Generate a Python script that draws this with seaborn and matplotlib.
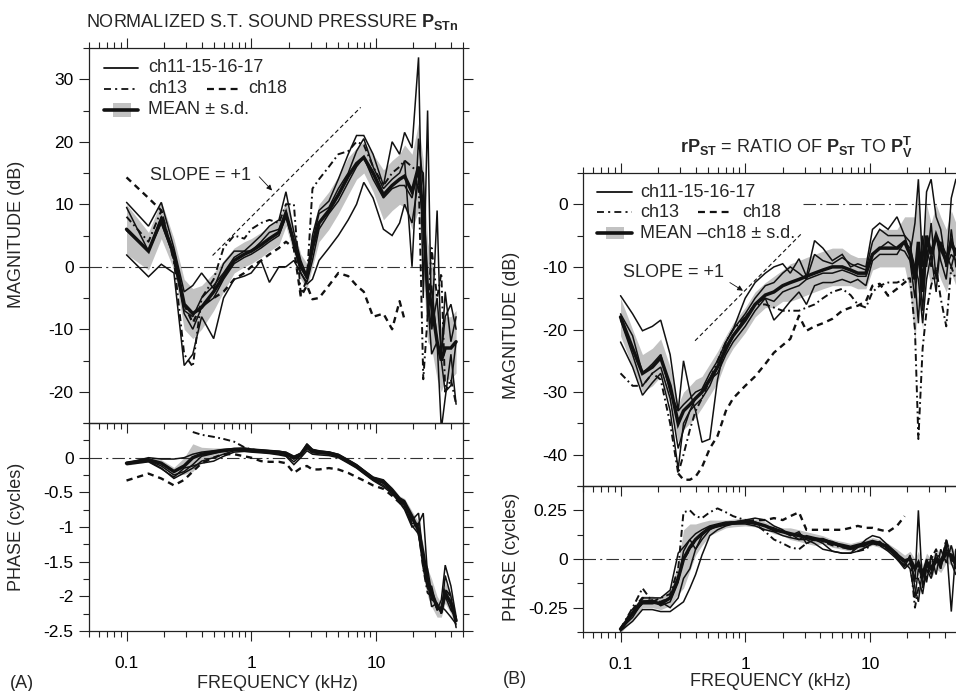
import numpy as np
import pandas as pd
import matplotlib
matplotlib.use("Agg")
import matplotlib.pyplot as plt
import seaborn as sns
from matplotlib.ticker import FixedLocator, FixedFormatter, NullFormatter, FormatStrFormatter, MultipleLocator
from matplotlib.patches import Rectangle
from matplotlib.lines import Line2D

nan = np.nan

# ---------------- Panel A data (frequency in kHz) ----------------
fA = [0.10, 0.15, 0.19, 0.24, 0.29, 0.34, 0.40, 0.50, 0.60, 0.73, 0.88, 1.0, 1.2, 1.4, 1.67, 1.9, 2.2, 2.5, 2.8, 3.1,
      3.5, 4.2, 5.0, 6.0, 7.0, 8.0, 9.5, 11.5, 13.5, 15.5, 17.0, 19.5, 22.0, 24.0, 26.0, 28.0, 31.0, 33.5, 36.0, 40.0, 44.0]

magA_ch11 = [10.3, 6.5, 10.3, 3.0, -4.0, -3.0, -1.0, -3.5, 0.5, 2.5, 2.5, 3.5, 5.0, 6.5, 7.5, 12.0, 5.5, 1.0, -1.5, 5.0,
             9.0, 10.5, 14.0, 18.0, 21.0, 21.0, 18.0, 13.0, 20.0, 18.0, 21.5, 19.0, 33.5, -5.0, 25.0, -10.0, -5.0, -14.0, -8.0, -6.0, -10.0]
magA_ch15 = [9.5, 2.5, 8.0, 2.0, -7.0, -8.0, -5.0, -3.0, -1.0, 1.5, 2.5, 2.5, 4.0, 5.5, 6.0, 9.0, 3.0, 0.0, -2.0, 4.0,
             8.5, 9.5, 12.5, 15.0, 18.5, 20.5, 16.0, 12.5, 14.0, 15.0, 17.0, 0.0, 20.5, 13.0, -8.0, -3.0, -12.0, -14.5, -4.0, -12.0, -8.0]
magA_ch16 = [5.8, 2.5, 7.0, 1.5, -7.5, -10.0, -6.5, -5.0, -2.0, 0.5, 1.5, 2.0, 3.0, 4.0, 5.0, 8.0, 3.5, -1.0, -2.5, 1.0,
             6.0, 8.5, 10.5, 13.5, 16.0, 17.5, 14.0, 11.0, 12.5, 13.0, 13.0, 11.0, 16.0, 15.0, -5.0, -10.0, 9.0, -15.0, -20.0, -19.0, -12.0]
magA_ch17 = [1.9, -1.6, 0.4, -1.0, -15.8, -14.0, -8.0, -11.5, -5.0, -2.0, -1.5, -1.0, 1.0, -2.5, 0.0, 0.0, 1.0, -1.0, -2.8, -2.0,
             1.0, 3.0, 5.0, 7.5, 10.0, 13.5, 11.0, 6.0, 5.0, 7.0, 10.0, 7.0, 14.0, 8.0, -5.0, -14.0, -12.0, -26.0, -21.0, -14.0, -22.0]
magA_ch13 = [8.0, 4.0, 9.0, 1.0, -14.0, -16.0, -5.0, -2.0, 3.0, 5.0, 4.5, 6.0, 7.0, 7.5, 7.0, 10.0, 10.0, -4.5, -2.0, 12.5,
             14.0, 16.0, 18.0, 18.5, 20.0, 19.5, 16.0, 13.0, 15.0, 16.0, 17.0, 16.0, 15.0, -18.0, -8.0, 3.0, -5.0, -1.0, -20.0, -18.0, -22.0]
magA_ch18 = [14.3, 11.0, 9.0, 1.0, -6.0, -9.0, -6.0, -5.0, -4.0, -2.0, -1.0, 0.0, 1.0, 2.0, 3.0, 4.0, 3.0, -4.8, -3.0, -5.2,
             -5.0, -3.0, -1.0, -1.5, -3.0, -4.0, -8.0, -7.5, -10.0, -5.5, -8.5, nan, nan, nan, nan, nan, nan, nan, nan, nan, nan]
magA_mean = [6.0, 2.5, 7.5, 2.0, -6.0, -7.5, -6.5, -4.0, -1.5, 1.0, 2.0, 2.5, 3.5, 4.5, 5.5, 8.5, 4.0, 0.0, -1.5, 3.0,
             7.0, 9.0, 11.5, 14.5, 16.5, 17.5, 15.0, 11.5, 13.0, 14.0, 14.5, 12.0, 16.0, 8.0, -4.0, -6.0, -12.0, -15.0, -13.0, -13.0, -12.0]
magA_sd = [4, 3, 3, 2.5, 4, 4, 3.5, 3, 2.5, 2, 2, 2, 2, 2, 2, 2, 2, 2, 2, 3,
           3, 3, 3, 3, 2.5, 2.5, 3, 4, 4, 4, 5, 6, 7, 9, 8, 7, 6, 5, 5, 5, 5]

phA_ch11 = [-0.08, 0.0, -0.02, -0.02, 0.0, 0.05, 0.08, 0.1, 0.12, 0.13, 0.14, 0.12, 0.11, 0.1, 0.09, 0.08, 0.02, 0.06, 0.2, 0.12,
            0.1, 0.08, 0.05, -0.03, -0.1, -0.18, -0.28, -0.32, -0.45, -0.58, -0.62, -0.9, -0.8, -1.45, -1.6, -1.95, -2.2, -2.05, -1.55, -1.85, -2.3]
phA_ch15 = [-0.07, -0.04, -0.12, -0.25, -0.2, -0.1, 0.02, 0.06, 0.1, 0.12, 0.11, 0.1, 0.09, 0.09, 0.07, 0.05, -0.02, 0.04, 0.15, 0.09,
            0.08, 0.06, 0.02, -0.06, -0.13, -0.2, -0.31, -0.37, -0.48, -0.62, -0.68, -0.95, -0.95, -0.8, -1.7, -2.05, -2.1, -2.25, -2.0, -2.2, -2.3]
phA_ch16 = [-0.09, -0.05, -0.15, -0.3, -0.22, -0.15, -0.05, 0.0, 0.05, 0.1, 0.1, 0.1, 0.08, 0.07, 0.05, 0.03, -0.06, 0.03, 0.13, 0.07,
            0.06, 0.05, 0.01, -0.07, -0.14, -0.22, -0.32, -0.4, -0.5, -0.63, -0.72, -0.98, -1.1, -1.6, -1.9, -1.85, -2.2, -2.15, -2.2, -2.3, -2.4]
phA_ch17 = [-0.1, -0.06, -0.16, -0.28, -0.15, -0.12, -0.08, -0.05, 0.02, 0.08, 0.09, 0.08, 0.07, 0.06, 0.04, 0.02, -0.1, 0.0, 0.1, 0.05,
            0.04, 0.03, 0.0, -0.08, -0.15, -0.23, -0.33, -0.42, -0.52, -0.65, -0.75, -1.0, -0.95, -1.5, -1.8, -2.15, -2.1, -2.25, -1.7, -2.0, -2.45]
phA_ch13 = [nan, nan, nan, nan, nan, 0.37, 0.33, 0.3, 0.27, 0.23, 0.15, 0.12, 0.1, 0.09, 0.08, 0.06, 0.0, 0.05, 0.16, 0.1,
            0.08, 0.06, 0.03, -0.05, -0.12, -0.2, -0.3, -0.36, -0.48, -0.6, -0.68, -0.9, -1.05, -1.6, -1.95, -2.0, -2.15, -2.2, -1.9, -2.0, -2.35]
phA_ch18 = [-0.33, -0.23, -0.3, -0.4, -0.32, -0.2, -0.08, 0.0, 0.05, 0.05, 0.02, 0.0, -0.05, -0.06, -0.06, -0.08, -0.22, -0.15, -0.12, -0.17,
            -0.17, -0.15, -0.17, -0.22, -0.28, -0.33, -0.4, -0.45, -0.55, -0.65, -0.72, nan, nan, nan, nan, nan, nan, nan, nan, nan, nan]
phA_mean = [-0.08, -0.03, -0.08, -0.2, -0.12, 0.0, 0.05, 0.08, 0.1, 0.12, 0.12, 0.11, 0.1, 0.09, 0.08, 0.06, 0.0, 0.05, 0.17, 0.1,
            0.08, 0.07, 0.03, -0.05, -0.12, -0.2, -0.3, -0.35, -0.47, -0.6, -0.65, -0.85, -1.05, -1.4, -1.8, -1.95, -2.15, -2.2, -1.95, -2.1, -2.35]
phA_sd = [0.03, 0.03, 0.05, 0.06, 0.12, 0.2, 0.1, 0.06, 0.04, 0.03, 0.03, 0.03, 0.03, 0.03, 0.03, 0.03, 0.04, 0.04, 0.04, 0.03,
          0.03, 0.03, 0.03, 0.03, 0.03, 0.03, 0.03, 0.04, 0.05, 0.05, 0.06, 0.08, 0.12, 0.15, 0.2, 0.2, 0.15, 0.1, 0.15, 0.15, 0.12]

# ---------------- Panel B data ----------------
fB = [0.10, 0.125, 0.15, 0.18, 0.21, 0.25, 0.29, 0.32, 0.36, 0.40, 0.45, 0.52, 0.60, 0.70, 0.80, 1.0, 1.2, 1.45, 1.7, 2.0,
      2.3, 2.7, 3.1, 3.6, 4.2, 5.0, 6.0, 7.0, 8.0, 9.3, 10.5, 12.0, 14.0, 16.5, 19.0, 21.0, 23.0, 24.5, 26.5, 28.5,
      31.0, 34.0, 37.0, 41.0, 45.0, 49.0]

magB_ch11 = [-14.6, -17.5, -20.2, -19.5, -18.5, -24, -33, -25, -30, -33, -38, -37.5, -28, -22, -20, -15, -12.5, -11, -10, -9.5,
             -11, -8.7, -11.5, -5.8, -7, -9, -8, -10, -9.5, -10, -4, -3, -4, -2, -5, -8, -3, 4, -10, 2,
             4, -2, -4, -10, 1, 4]
magB_ch15 = [-17.5, -21, -27, -25.5, -24, -30, -33, -32, -31, -30, -29.5, -27, -25, -22, -20, -17.5, -15, -13, -12.5, -11,
             -10, -11, -12, -8, -9, -9.5, -8.5, -9.5, -10, -10.5, -6, -4, -5, -5, -5, -6, -12, -19, -5, -10,
             -3, -12, -6, -8, -10, -7]
magB_ch16 = [-18.5, -24, -29, -27, -26, -31, -39, -36, -33, -32, -31, -29, -26, -23.5, -21, -18, -16, -15, -15.5, -14,
             -13.5, -13, -12, -11.5, -11, -11, -10.5, -11, -11.5, -11.5, -8, -7, -6, -7, -7.5, -9, -15, -8, -17, -7,
             -10, -5, -9, -12, -4, -10]
magB_ch17 = [-22, -26, -30.5, -28.5, -27, -33, -42.3, -35, -33, -31, -30, -28, -27, -24, -22, -19.5, -17, -15, -18.5, -17,
             -15.5, -14, -16, -13, -12.5, -12.5, -12, -12.5, -12, -13, -9, -8, -8, -8, -6, -7, -10, -12, -19, -12,
             -8, -14, -6, -10, -8, -9]
magB_ch13 = [-27, -29, -29, -27, -28, -35, -43, -40, -36, -33, -31, -28, -25, -22, -20, -18, -16, -16, -16.5, -17,
             -17, -17, -16.5, -16, -15, -14, -13.5, -14.5, -16, -16.5, -14, -13, -12.5, -12.5, -12, -11.8, -20, -37.5, -23, -17,
             -13, -10, -15, -19.5, -10, -12]
magB_ch18 = [nan, nan, nan, nan, nan, nan, -43, -44, -44, -43.5, -42, -39, -37, -33, -31, -29, -27.5, -25.5, -23.7, -22.5,
             -21.5, -17.8, -20.2, -19.5, -19, -18.3, -17, -16.5, -16.2, -15.5, -13, -12.7, -14.6, -13.5, -12.5, -11.8, nan, nan, nan, nan,
             nan, nan, nan, nan, nan, nan]
magB_mean = [-18, -23, -27, -26, -24.5, -29, -35, -33, -32, -31, -30, -28, -26, -23, -21, -18.5, -16, -14.5, -14, -13,
             -12.5, -12, -11.5, -11, -10.5, -10, -10, -10.5, -11, -11, -8, -7, -7, -7, -6, -8, -12, -6, -14, -5,
             -8, -5, -7, -9, -6, -8]
magB_sd = [3, 3, 3, 3, 3, 3, 3, 3, 3, 3, 2.5, 2.5, 2.5, 2, 2, 2, 2, 2, 2.5, 2.5,
           3, 3, 3, 3, 3, 3, 3, 2.5, 2.5, 2.5, 2.5, 3, 3, 3, 4, 6, 10, 8, 6, 5,
           5, 5, 5, 5, 5, 5]

phB_ch11 = [-0.36, -0.27, -0.2, -0.2, -0.2, -0.16, 0.03, 0.06, 0.1, 0.13, 0.15, 0.17, 0.18, 0.19, 0.19, 0.2, 0.21, 0.2, 0.17, 0.15,
            0.12, 0.14, 0.08, 0.1, 0.08, 0.04, 0.03, 0.03, 0.06, 0.1, 0.12, 0.11, 0.07, 0.0, -0.03, 0.01, -0.12, 0.25, -0.15, -0.03,
            -0.08, 0.03, -0.05, 0.08, -0.27, 0.05]
phB_ch15 = [-0.36, -0.3, -0.22, -0.21, -0.24, -0.22, -0.12, 0.04, 0.1, 0.05, 0.12, 0.16, 0.17, 0.18, 0.19, 0.19, 0.18, 0.17, 0.16, 0.14,
            0.13, 0.1, 0.12, 0.11, 0.1, 0.09, 0.07, 0.05, 0.06, 0.07, 0.09, 0.08, 0.07, 0.03, -0.02, -0.05, -0.2, -0.05, -0.1, 0.0,
            -0.05, -0.02, 0.0, 0.05, 0.02, -0.05]
phB_ch16 = [-0.37, -0.28, -0.23, -0.23, -0.22, -0.25, -0.2, -0.1, -0.05, 0.05, 0.1, 0.15, 0.17, 0.18, 0.18, 0.19, 0.19, 0.17, 0.15, 0.14,
            0.12, 0.13, 0.11, 0.1, 0.09, 0.08, 0.06, 0.05, 0.07, 0.06, 0.08, 0.09, 0.05, 0.01, -0.04, 0.02, -0.15, -0.22, -0.05, -0.12,
            0.02, -0.08, 0.05, -0.02, 0.07, -0.03]
phB_ch17 = [-0.37, -0.32, -0.26, -0.26, -0.27, -0.27, -0.24, -0.22, -0.15, -0.08, 0.02, 0.12, 0.15, 0.17, 0.18, 0.18, 0.17, 0.15, 0.14, 0.12,
            0.11, 0.1, 0.1, 0.08, 0.05, 0.04, 0.03, 0.03, 0.04, 0.06, 0.08, 0.07, 0.04, 0.0, -0.05, -0.02, -0.1, -0.1, -0.18, -0.05,
            -0.1, 0.0, -0.05, 0.1, -0.02, -0.08]
phB_ch13 = [-0.36, -0.25, -0.15, -0.22, -0.2, -0.18, -0.05, 0.24, 0.25, 0.22, 0.21, 0.24, 0.26, 0.24, 0.22, 0.2, 0.18, 0.14, 0.1, 0.08,
            0.06, 0.05, 0.08, 0.1, 0.09, 0.07, 0.06, 0.05, 0.04, 0.05, 0.08, 0.07, 0.05, 0.02, -0.02, 0.0, -0.25, -0.15, -0.05, -0.1,
            0.0, 0.05, -0.03, 0.1, 0.0, -0.05]
phB_ch18 = [-0.36, -0.26, -0.2, -0.22, -0.22, -0.2, -0.1, 0.0, 0.05, 0.1, 0.13, 0.16, 0.17, 0.18, 0.19, 0.19, 0.2, 0.2, 0.21, 0.2,
            0.22, 0.24, 0.15, 0.15, 0.15, 0.15, 0.15, 0.16, 0.17, 0.16, 0.16, 0.15, 0.14, 0.17, 0.22, nan, nan, nan, nan, nan,
            nan, nan, nan, nan, nan, nan]
phB_mean = [-0.36, -0.28, -0.22, -0.22, -0.23, -0.2, -0.1, 0.0, 0.06, 0.1, 0.13, 0.16, 0.17, 0.18, 0.185, 0.19, 0.185, 0.17, 0.15, 0.14,
            0.13, 0.12, 0.11, 0.1, 0.1, 0.08, 0.07, 0.06, 0.07, 0.08, 0.09, 0.08, 0.06, 0.02, -0.01, 0.0, -0.05, -0.02, -0.08, -0.02,
            -0.05, 0.0, -0.02, 0.03, 0.02, -0.02]
phB_sd = [0.02, 0.03, 0.03, 0.03, 0.03, 0.04, 0.08, 0.15, 0.12, 0.08, 0.06, 0.04, 0.03, 0.02, 0.02, 0.02, 0.02, 0.02, 0.02, 0.02,
          0.03, 0.03, 0.03, 0.03, 0.02, 0.02, 0.02, 0.02, 0.02, 0.02, 0.02, 0.02, 0.02, 0.03, 0.03, 0.04, 0.05, 0.06, 0.05, 0.05,
          0.05, 0.05, 0.05, 0.05, 0.05, 0.05]

# slope reference lines (endpoints)
slopeA_f = [0.49, 7.55]
slopeA_db = [1.8, 25.5]
slopeB_f = [0.396, 2.89]
slopeB_db = [-21.8, -4.5]

# ---------------- style ----------------
sns.set_theme(style="ticks")
plt.rcParams.update({
    "font.family": ["Liberation Sans", "DejaVu Sans"],
    "mathtext.fontset": "custom",
    "mathtext.rm": "Liberation Sans",
    "mathtext.bf": "Liberation Sans:bold",
    "mathtext.it": "Liberation Sans:italic",
    "axes.unicode_minus": False,
    "axes.edgecolor": "#222222",
    "axes.linewidth": 0.9,
    "xtick.color": "#222222",
    "ytick.color": "#222222",
    "xtick.labelcolor": "black",
    "ytick.labelcolor": "black",
    "lines.scale_dashes": False,
})

INK = "#111111"
BAND = "#c2c2c2"
LS_13 = (0, (5, 2.5, 1.3, 2.5))
LS_18 = (0, (4.5, 3.5))
LS_ZERO = (0, (9, 3, 1.5, 3))

fig = plt.figure(figsize=(9.56, 6.91), dpi=100)
W = 956.0
H = 691.0


def axes_px(l, t, r, b):
    return fig.add_axes([l / W, 1 - b / H, (r - l) / W, (b - t) / H])


axAm = axes_px(89, 48, 463, 423)
axAp = axes_px(89, 423, 463, 631)
axBm = axes_px(583, 173, 957, 486)
axBp = axes_px(583, 486, 957, 632)
for ax in (axAm, axAp, axBm, axBp):
    ax.patch.set_alpha(0)
    ax.set_xscale("log")

minors = [0.05, 0.06, 0.07, 0.08, 0.09, 0.2, 0.3, 0.4, 0.5, 0.6, 0.7, 0.8, 0.9,
          2, 3, 4, 5, 6, 7, 8, 9, 20, 30, 40, 50]


def line(ax, f, y, lw=0.9, ls="-", z=3):
    d = pd.DataFrame({"f": f, "y": y}).dropna()
    sns.lineplot(data=d, x="f", y="y", ax=ax, color=INK, lw=lw, estimator=None, sort=False, zorder=z)
    ax.lines[-1].set_linestyle(ls)
    ax.lines[-1].set_solid_joinstyle("miter")


def panel(ax, f, solids, c13, c18, mean, sd):
    m = np.array(mean, float)
    s = np.array(sd, float)
    ax.fill_between(f, m - s, m + s, color=BAND, lw=0, zorder=1)
    for ser in solids:
        line(ax, f, ser, lw=1.1)
    line(ax, f, c13, lw=1.4, ls=LS_13)
    line(ax, f, c18, lw=1.7, ls=LS_18)
    line(ax, f, mean, lw=2.5, z=4)
    ax.set_xlabel("")
    ax.set_ylabel("")


panel(axAm, fA, [magA_ch11, magA_ch15, magA_ch16, magA_ch17], magA_ch13, magA_ch18, magA_mean, magA_sd)
panel(axAp, fA, [phA_ch11, phA_ch15, phA_ch16, phA_ch17], phA_ch13, phA_ch18, phA_mean, phA_sd)
panel(axBm, fB, [magB_ch11, magB_ch15, magB_ch16, magB_ch17], magB_ch13, magB_ch18, magB_mean, magB_sd)
panel(axBp, fB, [phB_ch11, phB_ch15, phB_ch16, phB_ch17], phB_ch13, phB_ch18, phB_mean, phB_sd)

# zero reference lines
for ax in (axAm, axAp, axBp):
    ax.axhline(0, color="#333333", lw=0.8, ls=LS_ZERO, zorder=2)
axBm.hlines(0, 2.9, 50, color="#333333", lw=0.8, linestyles=[LS_ZERO], zorder=2)

# slope lines + annotation
axAm.plot(slopeA_f, slopeA_db, color=INK, lw=0.8, ls=(0, (3, 2)), zorder=2)
axBm.plot(slopeB_f, slopeB_db, color=INK, lw=0.8, ls=(0, (3, 2)), zorder=2)
axAm.text(0.153, 14.6, "SLOPE = +1", fontsize=13, ha="left", va="center")
axAm.annotate("", xy=(1.47, 12.2), xytext=(1.16, 14.4),
              arrowprops=dict(arrowstyle="-|>", lw=0.6, color=INK, mutation_scale=8, shrinkA=0, shrinkB=0))
axBm.text(0.1056, -10.9, "SLOPE = +1", fontsize=13, ha="left", va="center")
axBm.annotate("", xy=(0.96, -13.8), xytext=(0.753, -12.5),
              arrowprops=dict(arrowstyle="-|>", lw=0.6, color=INK, mutation_scale=8, shrinkA=0, shrinkB=0))

# limits & ticks
axAm.set_ylim(-25, 35)
axAp.set_ylim(-2.5, 0.5)
axBm.set_ylim(-45, 5)
axBp.set_ylim(-0.375, 0.375)

for ax, is_mag in ((axAm, True), (axAp, False), (axBm, True), (axBp, False)):
    ax.set_xlim(0.05, 50)
    ax.xaxis.set_major_locator(FixedLocator([0.1, 1, 10]))
    ax.xaxis.set_minor_locator(FixedLocator(minors))
    ax.xaxis.set_minor_formatter(NullFormatter())
    ax.tick_params(axis="both", which="major", direction="out", length=7, width=0.8, labelsize=12.5)
    ax.tick_params(axis="both", which="minor", direction="out", length=4.5, width=0.8)
    ax.tick_params(axis="y", which="both", left=True, right=True, pad=4)
    if is_mag:
        ax.tick_params(axis="x", which="both", top=True, bottom=True, labelbottom=False, labeltop=False)
        ax.xaxis.set_major_formatter(NullFormatter())
    else:
        ax.tick_params(axis="x", which="both", top=False, bottom=True, labelbottom=True, pad=11)
        ax.xaxis.set_major_formatter(FixedFormatter(["0.1", "1", "10"]))
    ax.yaxis.set_major_formatter(FormatStrFormatter("%g"))
    for sp in ax.spines.values():
        sp.set_visible(True)
        sp.set_linewidth(0.9)

axAm.yaxis.set_major_locator(FixedLocator([-20, -10, 0, 10, 20, 30]))
axAm.yaxis.set_minor_locator(MultipleLocator(5))
axAp.yaxis.set_major_locator(FixedLocator([-2.5, -2, -1.5, -1, -0.5, 0]))
axAp.yaxis.set_minor_locator(MultipleLocator(0.25))
axBm.yaxis.set_major_locator(FixedLocator([-40, -30, -20, -10, 0]))
axBm.yaxis.set_minor_locator(MultipleLocator(5))
axBp.yaxis.set_major_locator(FixedLocator([-0.25, 0, 0.25]))
axBp.yaxis.set_minor_locator(FixedLocator([-0.375, -0.125, 0.125, 0.375]))


# legends drawn in axes fraction
def legend(ax, rows_y, x0, x1, xt, x2a, x2b, xt2, mean_label):
    tr = ax.transAxes
    kw = dict(transform=tr, clip_on=False, color=INK, zorder=6)
    ax.add_line(Line2D([x0, x1], [rows_y[0]] * 2, lw=1.3, **kw))
    ax.text(xt, rows_y[0], "ch11-15-16-17", transform=tr, fontsize=13, va="center", ha="left")
    ax.add_line(Line2D([x0, x1], [rows_y[1]] * 2, lw=1.3, ls=(0, (5, 3, 1.5, 3)), **kw))
    ax.text(xt, rows_y[1], "ch13", transform=tr, fontsize=13, va="center", ha="left")
    ax.add_line(Line2D([x2a, x2b], [rows_y[1]] * 2, lw=1.6, ls=(0, (5, 3.5)), **kw))
    ax.text(xt2, rows_y[1], "ch18", transform=tr, fontsize=13, va="center", ha="left")
    ax.add_patch(Rectangle((x0 + 0.024, rows_y[2] - 0.018), 0.048, 0.036, transform=tr,
                           color=BAND, lw=0, zorder=5, clip_on=False))
    ax.add_line(Line2D([x0, x1], [rows_y[2]] * 2, lw=2.6, **kw))
    ax.text(xt, rows_y[2], mean_label, transform=tr, fontsize=13, va="center", ha="left")


legend(axAm, [0.947, 0.891, 0.835], 0.040, 0.131, 0.158, 0.316, 0.404, 0.425, "MEAN \u00b1 s.d.")
legend(axBm, [0.939, 0.875, 0.808], 0.037, 0.131, 0.152, 0.307, 0.398, 0.425, "MEAN \u2013ch18 \u00b1 s.d.")

# titles and labels
fig.text(272 / W, 1 - 22 / H, r"NORMALIZED S.T. SOUND PRESSURE $\mathbf{P}_{\mathbf{STn}}$",
         fontsize=13, ha="center", va="center")
fig.text(796 / W, 1 - 147 / H,
         r"$\mathbf{rP}_{\mathbf{ST}}$ = RATIO OF $\mathbf{P}_{\mathbf{ST}}$ TO $\mathbf{P}_{\mathbf{V}}^{\mathbf{T}}$",
         fontsize=13, ha="center", va="center")
fig.text(17 / W, 1 - 234 / H, "MAGNITUDE (dB)", rotation=90, fontsize=13, ha="center", va="center")
fig.text(17 / W, 1 - 527 / H, "PHASE (cycles)", rotation=90, fontsize=13, ha="center", va="center")
fig.text(512 / W, 1 - 325 / H, "MAGNITUDE (dB)", rotation=90, fontsize=13, ha="center", va="center")
fig.text(512 / W, 1 - 557 / H, "PHASE (cycles)", rotation=90, fontsize=13, ha="center", va="center")
fig.text(277 / W, 1 - 683 / H, "FREQUENCY (kHz)", fontsize=13, ha="center", va="center")
fig.text(770 / W, 1 - 682 / H, "FREQUENCY (kHz)", fontsize=13, ha="center", va="center")
fig.text(22 / W, 1 - 684 / H, "(A)", fontsize=13, ha="center", va="center")
fig.text(515 / W, 1 - 680 / H, "(B)", fontsize=13, ha="center", va="center")

fig.savefig("out.png", dpi=100, facecolor="white")
